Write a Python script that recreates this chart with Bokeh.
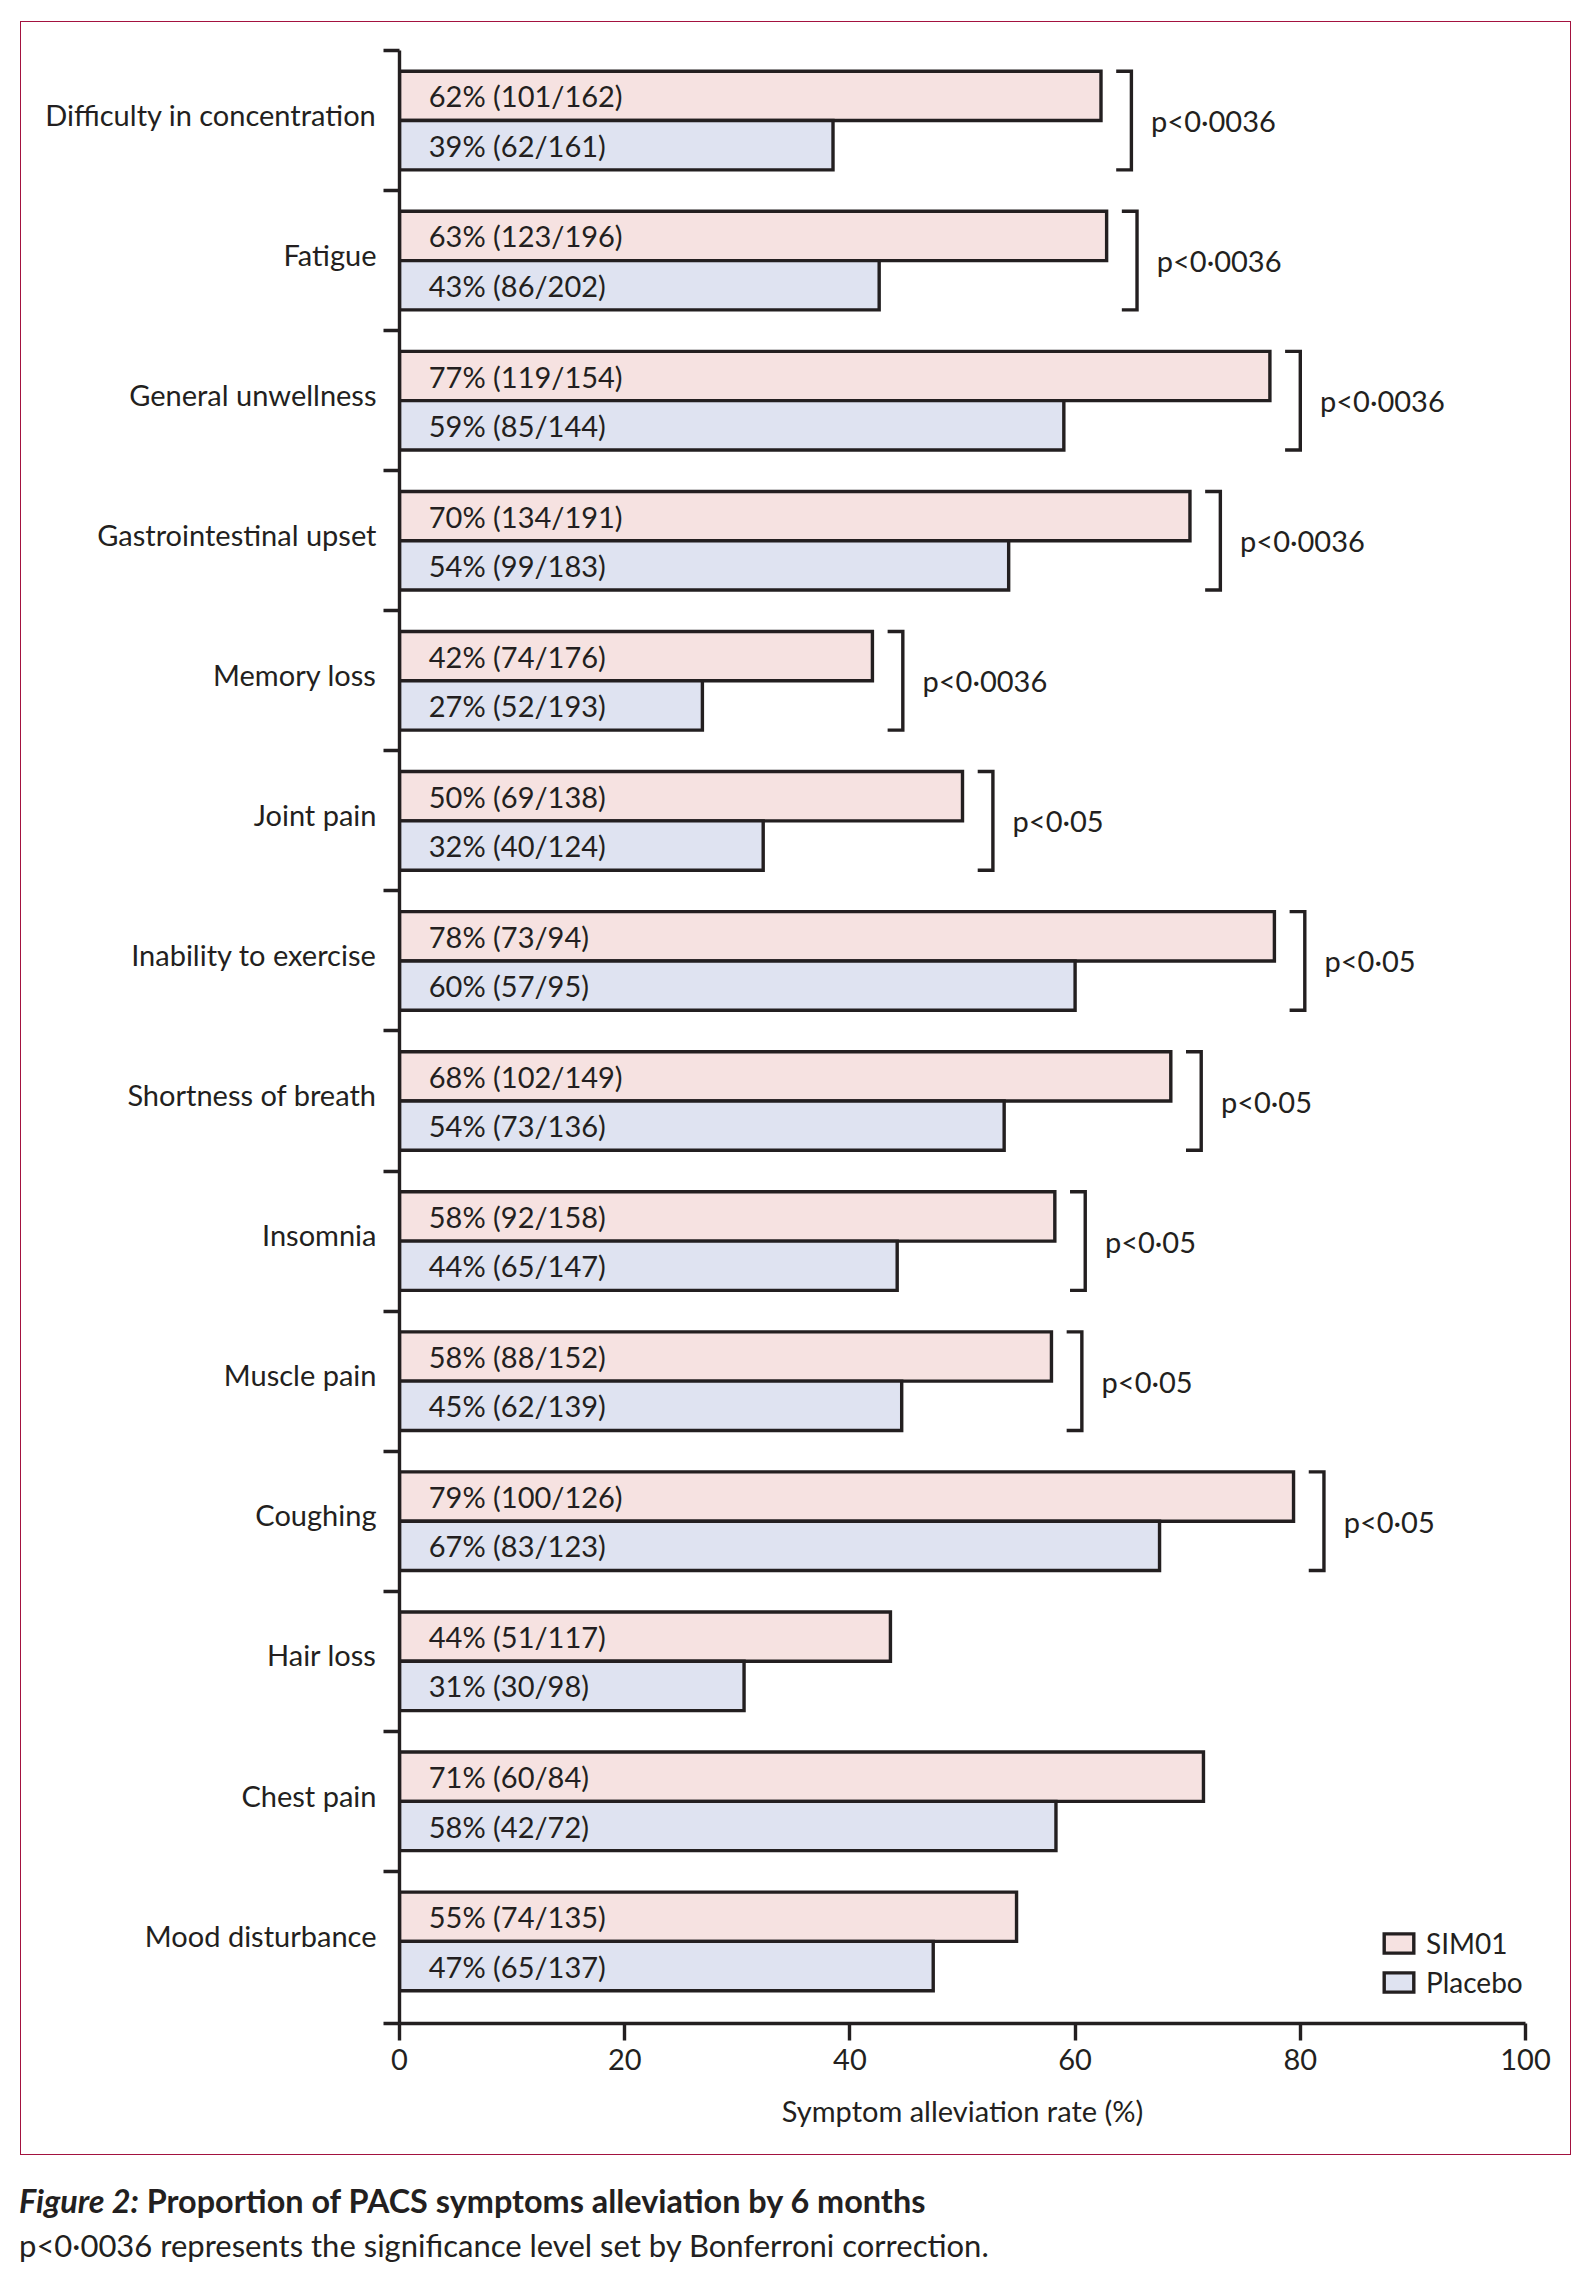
from bokeh.plotting import figure
from bokeh.models import FixedTicker, Legend, LegendItem, Div, Spacer
from bokeh.layouts import column, row
from bokeh.core.properties import value
from bokeh.embed import file_html
from bokeh.resources import INLINE

# ---------------- data ----------------
symptoms = ["Difficulty in concentration", "Fatigue", "General unwellness",
            "Gastrointestinal upset", "Memory loss", "Joint pain",
            "Inability to exercise", "Shortness of breath", "Insomnia",
            "Muscle pain", "Coughing", "Hair loss", "Chest pain", "Mood disturbance"]
sim01 = [62.3, 62.8, 77.3, 70.2, 42.0, 50.0, 77.7, 68.5, 58.2, 57.9, 79.4, 43.6, 71.4, 54.8]
placebo = [38.5, 42.6, 59.0, 54.1, 26.9, 32.3, 60.0, 53.7, 44.2, 44.6, 67.5, 30.6, 58.3, 47.4]
sim01_labels = ["62% (101/162)", "63% (123/196)", "77% (119/154)", "70% (134/191)",
                "42% (74/176)", "50% (69/138)", "78% (73/94)", "68% (102/149)",
                "58% (92/158)", "58% (88/152)", "79% (100/126)", "44% (51/117)",
                "71% (60/84)", "55% (74/135)"]
placebo_labels = ["39% (62/161)", "43% (86/202)", "59% (85/144)", "54% (99/183)",
                  "27% (52/193)", "32% (40/124)", "60% (57/95)", "54% (73/136)",
                  "44% (65/147)", "45% (62/139)", "67% (83/123)", "31% (30/98)",
                  "58% (42/72)", "47% (65/137)"]
p_values = ["p<0\u00b70036", "p<0\u00b70036", "p<0\u00b70036", "p<0\u00b70036", "p<0\u00b70036",
            "p<0\u00b705", "p<0\u00b705", "p<0\u00b705", "p<0\u00b705", "p<0\u00b705", "p<0\u00b705",
            None, None, None]
x_ticks = [0, 20, 40, 60, 80, 100]
series_names = ["SIM01", "Placebo"]

# ---------------- style ----------------
FONT = value("Lato")
FS = "29px"
INK = "#231f20"
SIM_FILL = "#f6e2e1"
PLA_FILL = "#dfe3f1"
FRAME = "#a3123f"
LW = 3.4

n = len(symptoms)
centers = [n - i - 0.5 for i in range(n)]
label_pos = [c + 0.045 for c in centers]
half = 0.176
bar_h = 0.352

p = figure(width=1551, height=2134, x_range=(0, 100), y_range=(-0.086, n),
           output_backend="svg", toolbar_location=None,
           min_border_left=378, min_border_right=47, min_border_top=28, min_border_bottom=133,
           outline_line_color=None, background_fill_color="white", border_fill_color="white",
           margin=0)
p.grid.visible = False
p.styles = {"border": "1.5px solid " + FRAME, "position": "relative", "left": "8px", "top": "8px"}

r_sim = p.hbar(y=[c + half for c in centers], right=sim01, left=0, height=bar_h,
               fill_color=SIM_FILL, line_color=INK, line_width=LW, line_join="miter")
r_pla = p.hbar(y=[c - half for c in centers], right=placebo, left=0, height=bar_h,
               fill_color=PLA_FILL, line_color=INK, line_width=LW, line_join="miter")

p.text(x=[2.6] * n, y=[c + half for c in centers], text=sim01_labels,
       text_font=FONT, text_font_size=FS, text_color=INK,
       text_baseline="middle", text_align="left")
p.text(x=[2.6] * n, y=[c - half for c in centers], text=placebo_labels,
       text_font=FONT, text_font_size=FS, text_color=INK,
       text_baseline="middle", text_align="left")

# significance brackets
bx, bys, tx, ty, tt = [], [], [], [], []
for i in range(n):
    if p_values[i] is None:
        continue
    x0 = sim01[i] + 2.7
    top = centers[i] + 2 * half
    bot = centers[i] - 2 * half
    bx.append([x0 - 1.35, x0, x0, x0 - 1.35])
    bys.append([top, top, bot, bot])
    tx.append(x0 + 1.75)
    ty.append(centers[i])
    tt.append(p_values[i])
p.multi_line(xs=bx, ys=bys, line_color=INK, line_width=LW, line_join="miter")
p.text(x=tx, y=ty, text=tt, text_font=FONT, text_font_size=FS, text_color=INK,
       text_baseline="middle", text_align="left")

# x axis
xa = p.xaxis[0]
xa.ticker = FixedTicker(ticks=x_ticks, minor_ticks=[])
xa.axis_label = "Symptom alleviation rate (%)"
xa.axis_label_text_font = "Lato"
xa.axis_label_text_font_size = FS
xa.axis_label_text_font_style = "normal"
xa.axis_label_text_color = INK
xa.axis_label_standoff = 20
xa.major_label_text_font = "Lato"
xa.major_label_text_font_size = FS
xa.major_label_text_color = INK
xa.major_label_standoff = 8
xa.axis_line_width = LW
xa.axis_line_color = INK
xa.major_tick_line_width = LW
xa.major_tick_line_color = INK
xa.major_tick_out = 17
xa.major_tick_in = 0
xa.minor_tick_line_color = None

# y axis: labels at category centres, ticks at category boundaries
ya = p.yaxis[0]
ya.ticker = FixedTicker(ticks=label_pos, minor_ticks=[-0.086] + [float(k) for k in range(1, n + 1)])
ya.major_label_overrides = {c: s for c, s in zip(label_pos, symptoms)}
ya.major_label_text_font = "Lato"
ya.major_label_text_font_size = FS
ya.major_label_text_color = INK
ya.major_label_standoff = 7
ya.major_tick_line_color = None
ya.major_tick_out = 16
ya.major_tick_in = 0
ya.minor_tick_line_color = INK
ya.minor_tick_line_width = LW
ya.minor_tick_out = 16
ya.minor_tick_in = 0
ya.axis_line_width = LW
ya.axis_line_color = INK

legend = Legend(items=[LegendItem(label=series_names[0], renderers=[r_sim]),
                       LegendItem(label=series_names[1], renderers=[r_pla])],
                location=(981, 24), border_line_color=None, background_fill_alpha=0,
                padding=0, margin=0, glyph_width=37, glyph_height=24,
                label_standoff=9, spacing=5, label_height=24,
                label_text_font="Lato", label_text_font_size="28px", label_text_color=INK)
p.add_layout(legend)

caption = Div(text=('<span style="font-weight:700;font-size:32.4px"><i>Figure 2:</i> Proportion of PACS symptoms '
                    'alleviation by 6 months</span><br>p&lt;0\u00b70036 represents the significance '
                    'level set by Bonferroni correction.'),
              width=1540, margin=0,
              styles={"font-family": "Lato", "font-size": "31px", "line-height": "44px",
                      "color": INK, "position": "relative", "left": "8px", "top": "8px"})

layout = column(
    Spacer(height=13, margin=0),
    row(Spacer(width=12, margin=0), p, margin=0),
    Spacer(height=24, margin=0),
    row(Spacer(width=11, margin=0), caption, margin=0),
    margin=0,
)
open("out.html", "w").write(file_html(layout, INLINE))
